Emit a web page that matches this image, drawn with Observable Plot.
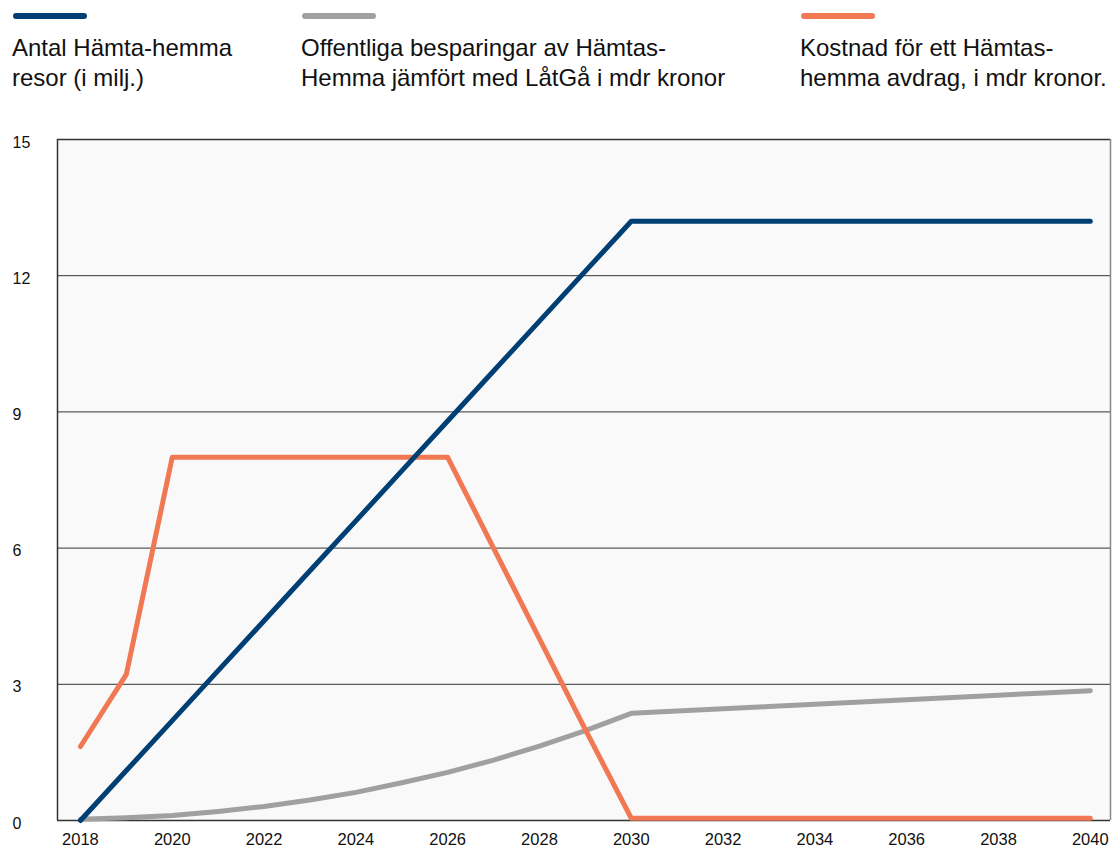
<!DOCTYPE html>
<html><head><meta charset="utf-8">
<script src="https://cdn.jsdelivr.net/npm/d3@7"></script>
<script src="https://cdn.jsdelivr.net/npm/@observablehq/plot@0.6"></script>
<style>
body{margin:0;background:#fff;font-family:"Liberation Sans",Arial,Helvetica,sans-serif;}
#wrap{position:relative;width:1115px;height:851px;overflow:hidden}
.sw{position:absolute;top:13px;width:74px;height:6px;border-radius:3px}
.lt{position:absolute;top:33px;font-size:24px;line-height:30px;color:#111;white-space:nowrap}
#chart{position:absolute;top:120px;left:0}
</style></head>
<body>
<div id="wrap"><div id="legend"></div><div id="chart"></div></div>
<script>
const seriesNames = [
  "Antal Hämta-hemma\nresor (i milj.)",
  "Offentliga besparingar av Hämtas-\nHemma jämfört med LåtGå i mdr kronor",
  "Kostnad för ett Hämtas-\nhemma avdrag, i mdr kronor."
];
const colors = ["#003f73", "#a0a0a0", "#f07853"];
const years = [2018,2019,2020,2021,2022,2023,2024,2025,2026,2027,2028,2029,2030,2031,2032,2033,2034,2035,2036,2037,2038,2039,2040];
const trips   = [0,1.1,2.2,3.3,4.4,5.5,6.6,7.7,8.8,9.9,11.0,12.1,13.2,13.2,13.2,13.2,13.2,13.2,13.2,13.2,13.2,13.2,13.2];
const savings = [0.03,0.06,0.11,0.2,0.31,0.45,0.62,0.83,1.06,1.33,1.64,1.98,2.36,2.41,2.46,2.51,2.56,2.61,2.66,2.71,2.76,2.81,2.86];
const cost    = [1.63,3.22,8.0,8.0,8.0,8.0,8.0,8.0,8.0,6.0,4.0,2.0,0.05,0.05,0.05,0.05,0.05,0.05,0.05,0.05,0.05,0.05,0.05];
const xTicks = [2018,2020,2022,2024,2026,2028,2030,2032,2034,2036,2038,2040];
const yTicks = [0,3,6,9,12,15];

// legend
const legendX = [13, 302, 801];
const leg = document.getElementById("legend");
seriesNames.forEach((n,i)=>{
  const sw = document.createElement("div");
  sw.className="sw"; sw.style.left=legendX[i]+"px"; sw.style.background=colors[i];
  leg.appendChild(sw);
  const t = document.createElement("div");
  t.className="lt"; t.style.left=(legendX[i]-1)+"px";
  t.innerHTML = n.split("\n").join("<br>");
  leg.appendChild(t);
});

const series = [trips, savings, cost];
const data = series.flatMap((arr,k)=>years.map((y,i)=>({year:y, value:arr[i], s:k})));
const x0 = 2017.5, x1 = 2040.44;

const chart = Plot.plot({
  width: 1115, height: 731,
  marginTop: 19, marginBottom: 31, marginLeft: 57, marginRight: 5,
  x: {domain: [x0, x1]},
  y: {domain: [0, 15]},
  style: {fontFamily: "'Liberation Sans', Arial, sans-serif", fontSize: "16px", color: "#111", background: "transparent"},
  marks: [
    Plot.frame({fill: "#f9f9f9", stroke: null}),
    Plot.ruleY(yTicks.filter(d=>d>0 && d<15), {stroke: "#333", strokeWidth: 1}),
    Plot.ruleY([15], {stroke: "#333", strokeWidth: 1.5}),
    Plot.ruleY([0], {stroke: "#333", strokeWidth: 1.5}),
    Plot.ruleX([x0], {stroke: "#333", strokeWidth: 1.5}),
    Plot.ruleX([x1], {stroke: "#888", strokeWidth: 1.5}),
    Plot.axisX(xTicks, {tickSize: 0, tickPadding: 13, tickFormat: d => String(d), label: null, fontSize: 16.5}),
    Plot.axisY(yTicks, {tickSize: 0, tickPadding: 45, textAnchor: "start", dy: 3, label: null, fontSize: 16}),
    Plot.line(data.filter(d=>d.s===1), {x: "year", y: "value", stroke: colors[1], strokeWidth: 5, strokeLinecap: "round", strokeLinejoin: "round"}),
    Plot.line(data.filter(d=>d.s===2), {x: "year", y: "value", stroke: colors[2], strokeWidth: 5, strokeLinecap: "round", strokeLinejoin: "round"}),
    Plot.line(data.filter(d=>d.s===0), {x: "year", y: "value", stroke: colors[0], strokeWidth: 5, strokeLinecap: "round", strokeLinejoin: "round"})
  ]
});
document.getElementById("chart").appendChild(chart);
</script>
</body></html>
